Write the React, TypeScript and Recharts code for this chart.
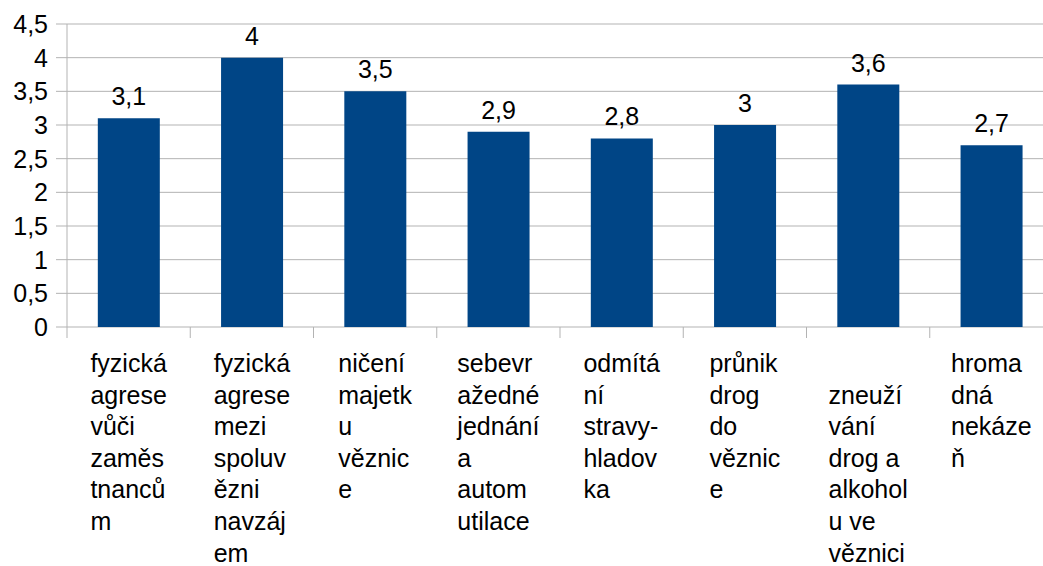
import { BarChart, Bar, XAxis, YAxis, CartesianGrid, LabelList } from "recharts"

const categories = [
  "fyzická agrese vůči zaměstnancům",
  "fyzická agrese mezi spoluvězni navzájem",
  "ničení majetku věznice",
  "sebevražedné jednání a automutilace",
  "odmítání stravy-hladovka",
  "průnik drog do věznice",
  "zneužívání drog a alkoholu ve věznici",
  "hromadná nekázeň",
]

// wrapped the same way the original chart breaks them
const tickLabels = [
  "fyzická\nagrese\nvůči\nzaměs\ntnanců\nm",
  "fyzická\nagrese\nmezi\nspoluv\nězni\nnavzáj\nem",
  "ničení\nmajetk\nu\nvěznic\ne",
  "sebevr\nažedné\njednání\na\nautom\nutilace",
  "odmítá\nní\nstravy-\nhladov\nka",
  "průnik\ndrog\ndo\nvěznic\ne",
  "\nzneuží\nvání\ndrog a\nalkohol\nu ve\nvěznici",
  "hroma\ndná\nnekáze\nň",
]

const values = [3.1, 4, 3.5, 2.9, 2.8, 3, 3.6, 2.7]

const yTicks = [0, 0.5, 1, 1.5, 2, 2.5, 3, 3.5, 4, 4.5]

const data = categories.map((name, i) => ({ name, value: values[i] }))

const FONT = "'Liberation Sans', Arial, sans-serif"
const FONT_SIZE = 25
const CHART_W = 1060
const CHART_H = 566
const LEFT = 67
const RIGHT = 7
const bandWidth = (CHART_W - LEFT - RIGHT) / categories.length

let ctx: CanvasRenderingContext2D | null = null
function textWidth(s: string) {
  if (!ctx) {
    ctx = document.createElement("canvas").getContext("2d")
  }
  if (!ctx) return s.length * FONT_SIZE * 0.5
  ctx.font = `${FONT_SIZE}px 'Liberation Sans'`
  return ctx.measureText(s).width
}

const fmt = (v: number) => String(v).replace(".", ",")

function CategoryTick(props: any) {
  const { x, y, index } = props
  const lines = tickLabels[index].split("\n")
  const block = Math.max(...lines.map(textWidth))
  const left = x - block / 2
  const boundary = x - bandWidth / 2
  return (
    <g>
      <line x1={boundary} y1={y} x2={boundary} y2={y + 11} stroke="#b3b3b3" strokeWidth={1} />
      <text fontFamily={FONT} fontSize={FONT_SIZE} fill="#000">
        {lines.map((l, i) => (
          <tspan key={i} x={left} y={y + 45 + i * 31.6}>
            {l}
          </tspan>
        ))}
      </text>
    </g>
  )
}

export default function App() {
  return (
    <div
      style={{
        position: "fixed",
        left: 0,
        top: 0,
        width: 1043,
        height: 566,
        overflow: "hidden",
        background: "#fff",
      }}
    >
      <BarChart
        width={CHART_W}
        height={CHART_H}
        data={data}
        margin={{ top: 24, right: RIGHT, left: 0, bottom: 0 }}
        barCategoryGap="25%"
      >
        <CartesianGrid stroke="#b3b3b3" vertical={false} />
        <XAxis
          dataKey="name"
          axisLine={false}
          tickLine={false}
          tickSize={0}
          tickMargin={0}
          height={CHART_H - 24 - 303}
          interval={0}
          tick={<CategoryTick />}
        />
        <YAxis
          width={LEFT}
          domain={[0, 4.5]}
          ticks={yTicks}
          interval={0}
          tickFormatter={fmt}
          axisLine={{ stroke: "#b3b3b3" }}
          tickLine={{ stroke: "#b3b3b3" }}
          tickSize={11}
          tickMargin={8}
          tick={{ fill: "#000", fontSize: FONT_SIZE, fontFamily: FONT }}
        />
        <Bar dataKey="value" fill="#004586" isAnimationActive={false}>
          <LabelList
            dataKey="value"
            position="top"
            offset={13}
            formatter={(v: any) => fmt(v)}
            fill="#000"
            fontSize={FONT_SIZE}
            fontFamily={FONT}
          />
        </Bar>
      </BarChart>
    </div>
  )
}
